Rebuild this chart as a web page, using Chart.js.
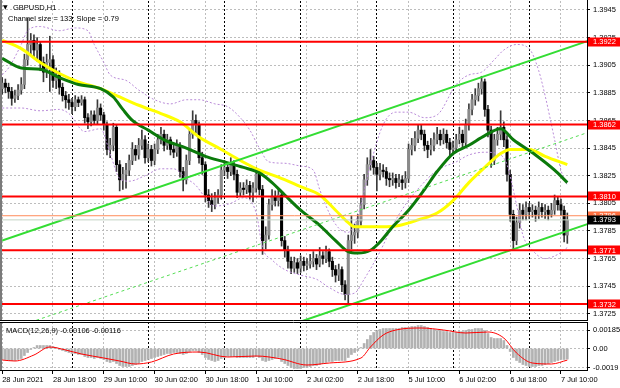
<!DOCTYPE html>
<html><head><meta charset="utf-8">
<script src="https://cdn.jsdelivr.net/npm/chart.js@4.4.1/dist/chart.umd.min.js"></script>
<style>
html,body{margin:0;padding:0;background:#fff;width:620px;height:388px;overflow:hidden}
canvas{position:absolute;left:0}
#main{top:0}
#macd{top:322px}
</style></head><body>
<canvas id="main" width="620" height="321"></canvas>
<canvas id="macd" width="620" height="66"></canvas>
<script>
// ---------- DATA ----------
const symbolTitle = 'GBPUSD,H1';
const channelText = 'Channel size = 133; Slope = 0.79';
const macdText = 'MACD(12,26,9) -0.00106 -0.00116';

const timeIdx = [0,16,32,48,64,80,96,112,128,144,160,176];
const timeLabels = ['28 Jun 2021','28 Jun 18:00','29 Jun 10:00','30 Jun 02:00','30 Jun 18:00','1 Jul 10:00','2 Jul 02:00','2 Jul 18:00','5 Jul 10:00','6 Jul 02:00','6 Jul 18:00','7 Jul 10:00'];
const daySepIdx = [22,46,70,94,118,142,166];
const priceTicks = [1.3725,1.3745,1.3765,1.3785,1.3805,1.3825,1.3845,1.3865,1.3885,1.3905,1.3925,1.3945];
const macdTickVals = [0.00185,0,-0.0019];
const macdTickText = ['0.00185','0.00','-0.0019'];

const openP = [1.3888,1.3892,1.3889,1.3886,1.3881,1.3883,1.3887,1.3891,1.3909,1.3920,
1.3923,1.3916,1.3920,1.3907,1.3900,1.3907,1.3909,1.3894,1.3898,1.3889,
1.3883,1.3880,1.3878,1.3875,1.3880,1.3878,1.3880,1.3867,1.3864,1.3869,
1.3865,1.3874,1.3869,1.3862,1.3844,1.3847,1.3860,1.3833,1.3822,1.3826,
1.3829,1.3836,1.3844,1.3840,1.3847,1.3851,1.3838,1.3844,1.3836,1.3844,
1.3851,1.3855,1.3847,1.3851,1.3844,1.3842,1.3847,1.3828,1.3822,1.3836,
1.3855,1.3865,1.3862,1.3838,1.3833,1.3811,1.3807,1.3804,1.3809,1.3811,
1.3829,1.3831,1.3828,1.3833,1.3826,1.3813,1.3816,1.3815,1.3818,1.3813,
1.3816,1.3826,1.3815,1.3778,1.3782,1.3804,1.3810,1.3807,1.3811,1.3778,
1.3771,1.3763,1.3758,1.3762,1.3758,1.3763,1.3760,1.3761,1.3763,1.3765,
1.3761,1.3767,1.3765,1.3770,1.3763,1.3757,1.3753,1.3757,1.3746,1.3739,
1.3778,1.3782,1.3784,1.3792,1.3804,1.3822,1.3833,1.3836,1.3831,1.3826,
1.3829,1.3828,1.3823,1.3822,1.3823,1.3820,1.3822,1.3820,1.3823,1.3844,
1.3847,1.3852,1.3858,1.3855,1.3847,1.3844,1.3847,1.3851,1.3855,1.3851,
1.3855,1.3849,1.3844,1.3845,1.3851,1.3855,1.3849,1.3862,1.3873,1.3880,
1.3883,1.3888,1.3893,1.3873,1.3858,1.3836,1.3851,1.3855,1.3860,1.3851,
1.3826,1.3797,1.3778,1.3791,1.3800,1.3797,1.3802,1.3799,1.3800,1.3797,
1.3802,1.3799,1.3800,1.3797,1.3800,1.3807,1.3804,1.3800,1.3782];
const highP = [1.3896,1.3895,1.3892,1.3889,1.3887,1.3891,1.3896,1.3913,1.3939,1.3928,
1.3927,1.3925,1.3922,1.3911,1.3913,1.3926,1.3912,1.3903,1.3901,1.3892,
1.3886,1.3884,1.3881,1.3883,1.3882,1.3883,1.3882,1.3870,1.3872,1.3872,
1.3880,1.3877,1.3871,1.3864,1.3852,1.3863,1.3862,1.3836,1.3831,1.3834,
1.3840,1.3849,1.3847,1.3852,1.3858,1.3854,1.3848,1.3847,1.3848,1.3855,
1.3860,1.3858,1.3855,1.3853,1.3848,1.3851,1.3849,1.3831,1.3840,1.3858,
1.3872,1.3869,1.3864,1.3842,1.3835,1.3815,1.3812,1.3813,1.3815,1.3833,
1.3836,1.3834,1.3838,1.3836,1.3829,1.3820,1.3820,1.3822,1.3821,1.3820,
1.3831,1.3829,1.3818,1.3788,1.3808,1.3815,1.3814,1.3815,1.3813,1.3781,
1.3774,1.3766,1.3766,1.3765,1.3767,1.3766,1.3765,1.3768,1.3770,1.3768,
1.3773,1.3770,1.3774,1.3772,1.3766,1.3760,1.3761,1.3759,1.3749,1.3782,
1.3796,1.3790,1.3797,1.3809,1.3826,1.3838,1.3844,1.3839,1.3834,1.3834,
1.3833,1.3831,1.3827,1.3827,1.3826,1.3826,1.3825,1.3828,1.3848,1.3852,
1.3857,1.3862,1.3862,1.3858,1.3850,1.3852,1.3856,1.3860,1.3858,1.3859,
1.3858,1.3852,1.3850,1.3855,1.3860,1.3858,1.3866,1.3877,1.3884,1.3888,
1.3892,1.3897,1.3895,1.3876,1.3861,1.3855,1.3860,1.3872,1.3864,1.3854,
1.3829,1.3800,1.3795,1.3805,1.3804,1.3806,1.3805,1.3804,1.3803,1.3806,
1.3805,1.3804,1.3803,1.3805,1.3811,1.3810,1.3808,1.3803,1.3798];
const lowP = [1.3884,1.3885,1.3881,1.3876,1.3878,1.3880,1.3884,1.3888,1.3905,1.3912,
1.3910,1.3908,1.3901,1.3893,1.3896,1.3886,1.3889,1.3888,1.3884,1.3879,
1.3874,1.3873,1.3870,1.3872,1.3875,1.3876,1.3863,1.3859,1.3861,1.3862,
1.3862,1.3865,1.3858,1.3840,1.3838,1.3843,1.3828,1.3814,1.3815,1.3816,
1.3825,1.3833,1.3836,1.3837,1.3844,1.3834,1.3835,1.3832,1.3833,1.3841,
1.3848,1.3843,1.3844,1.3840,1.3838,1.3839,1.3824,1.3814,1.3819,1.3833,
1.3852,1.3856,1.3834,1.3826,1.3806,1.3802,1.3799,1.3801,1.3805,1.3808,
1.3825,1.3823,1.3825,1.3822,1.3809,1.3810,1.3811,1.3812,1.3808,1.3806,
1.3813,1.3811,1.3768,1.3772,1.3779,1.3800,1.3803,1.3803,1.3774,1.3766,
1.3758,1.3754,1.3755,1.3754,1.3755,1.3756,1.3757,1.3758,1.3759,1.3757,
1.3759,1.3761,1.3762,1.3759,1.3752,1.3748,1.3749,1.3741,1.3735,1.3733,
1.3772,1.3776,1.3780,1.3789,1.3801,1.3818,1.3829,1.3826,1.3814,1.3822,
1.3824,1.3818,1.3817,1.3818,1.3816,1.3817,1.3815,1.3816,1.3820,1.3840,
1.3843,1.3849,1.3851,1.3843,1.3838,1.3840,1.3843,1.3848,1.3847,1.3848,
1.3845,1.3839,1.3840,1.3842,1.3848,1.3845,1.3846,1.3858,1.3869,1.3876,
1.3879,1.3884,1.3868,1.3853,1.3831,1.3833,1.3847,1.3851,1.3846,1.3821,
1.3792,1.3771,1.3775,1.3787,1.3793,1.3793,1.3794,1.3795,1.3792,1.3794,
1.3795,1.3794,1.3793,1.3795,1.3797,1.3800,1.3796,1.3777,1.3776];
const closeP = [1.3892,1.3889,1.3886,1.3881,1.3883,1.3887,1.3891,1.3909,1.3920,1.3923,
1.3916,1.3920,1.3907,1.3900,1.3907,1.3909,1.3894,1.3898,1.3889,1.3883,
1.3880,1.3878,1.3875,1.3880,1.3878,1.3880,1.3867,1.3864,1.3869,1.3865,
1.3874,1.3869,1.3862,1.3844,1.3847,1.3860,1.3833,1.3822,1.3826,1.3829,
1.3836,1.3844,1.3840,1.3847,1.3851,1.3838,1.3844,1.3836,1.3844,1.3851,
1.3855,1.3847,1.3851,1.3844,1.3842,1.3847,1.3828,1.3822,1.3836,1.3855,
1.3865,1.3862,1.3838,1.3833,1.3811,1.3807,1.3804,1.3809,1.3811,1.3829,
1.3831,1.3828,1.3833,1.3826,1.3813,1.3816,1.3815,1.3818,1.3813,1.3816,
1.3826,1.3815,1.3778,1.3782,1.3804,1.3810,1.3807,1.3811,1.3778,1.3771,
1.3763,1.3758,1.3762,1.3758,1.3763,1.3760,1.3761,1.3763,1.3765,1.3761,
1.3767,1.3765,1.3770,1.3763,1.3757,1.3753,1.3757,1.3746,1.3739,1.3778,
1.3782,1.3784,1.3792,1.3804,1.3822,1.3833,1.3836,1.3831,1.3826,1.3829,
1.3828,1.3823,1.3822,1.3823,1.3820,1.3822,1.3820,1.3823,1.3844,1.3847,
1.3852,1.3858,1.3855,1.3847,1.3844,1.3847,1.3851,1.3855,1.3851,1.3855,
1.3849,1.3844,1.3845,1.3851,1.3855,1.3849,1.3862,1.3873,1.3880,1.3883,
1.3888,1.3893,1.3873,1.3858,1.3836,1.3851,1.3855,1.3860,1.3851,1.3826,
1.3797,1.3778,1.3791,1.3800,1.3797,1.3802,1.3799,1.3800,1.3797,1.3802,
1.3799,1.3800,1.3797,1.3800,1.3807,1.3804,1.3800,1.3782,1.3793];

// moving averages (read at sample bars)
const yellowIdx = [0,6,12,18,24,31,37,43,50,56,62,69,75,81,87,94,100,105,109,111,116,121,125,131,137,142,147,152,157,160,166,171,178];
const yellowVal = [1.3923,1.3917,1.3907,1.3899,1.3893,1.3888,1.3882,1.3876,1.3870,1.3864,1.3853,1.3844,1.3836,1.3829,1.3824,1.3817,1.3811,1.3800,1.3791,1.3788,1.3788,1.3788,1.3789,1.3793,1.3798,1.3807,1.3820,1.3831,1.3841,1.3844,1.3844,1.3839,1.3833];
const greenIdx = [0,6,12,18,24,31,35,38,41,46,51,58,64,70,76,81,85,89,94,100,105,109,112,116,119,123,128,133,137,142,147,152,157,161,168,174,178];
const greenVal = [1.3910,1.3903,1.3902,1.3896,1.3891,1.3888,1.3882,1.3873,1.3865,1.3858,1.3851,1.3845,1.3839,1.3835,1.3831,1.3827,1.3820,1.3811,1.3800,1.3789,1.3778,1.3770,1.3769,1.3771,1.3777,1.3788,1.3800,1.3815,1.3828,1.3841,1.3847,1.3854,1.3859,1.3851,1.3840,1.3829,1.3820];
const upIdx = [0,2,6,8,12,18,23,27,29,32,34,39,43,48,53,58,62,67,71,75,78,81,84,89,94,98,100,103,106,109,112,116,120,124,128,133,137,143,147,151,155,158,162,166,169,171,174,176,178];
const upVal = [1.3898,1.3903,1.3920,1.3930,1.3933,1.3930,1.3932,1.3930,1.3920,1.3907,1.3898,1.3894,1.3887,1.3880,1.3877,1.3880,1.3880,1.3877,1.3875,1.3867,1.3858,1.3845,1.3835,1.3834,1.3832,1.3829,1.3815,1.3798,1.3787,1.3784,1.3796,1.3833,1.3862,1.3871,1.3871,1.3867,1.3869,1.3891,1.3898,1.3900,1.3909,1.3916,1.3920,1.3917,1.3901,1.3883,1.3851,1.3829,1.3818];
const loIdx = [0,6,12,18,21,26,31,34,37,40,45,50,54,58,61,64,67,72,76,80,82,85,89,94,99,103,108,111,114,119,123,127,132,137,143,147,152,157,159,162,164,167,171,175,178];
const loVal = [1.3874,1.3874,1.3872,1.3873,1.3870,1.3857,1.3859,1.3841,1.3823,1.3821,1.3825,1.3830,1.3830,1.3823,1.3818,1.3809,1.3803,1.3805,1.3809,1.3798,1.3773,1.3764,1.3757,1.3753,1.3750,1.3744,1.3739,1.3740,1.3750,1.3770,1.3789,1.3804,1.3818,1.3829,1.3835,1.3840,1.3842,1.3840,1.3833,1.3804,1.3782,1.3771,1.3765,1.3768,1.3773];

// channel lines (end points)
const chanUpIdx = [0,185], chanUpVal = [1.3778,1.3923];
const chanLoIdx = [93,185], chanLoVal = [1.37186,1.37905];
const chanMidIdx = [0,185], chanMidVal = [1.37119,1.38567];

// horizontal levels
const levels = [1.3922,1.3862,1.3810,1.3771,1.3732];
const orangeLevel = 1.3796;
const bidLevel = 1.3793;

// MACD
const macdHist = [-0.0011,-0.0011,-0.0012,-0.0012,-0.0012,-0.0011,-0.0010,-0.0007,-0.0004,-0.0001,
0.0001,0.0003,0.0003,0.0003,0.0003,0.0003,0.0002,0.0001,-0.0001,-0.0002,
-0.0003,-0.0004,-0.0005,-0.0005,-0.0006,-0.0006,-0.0008,-0.0009,-0.0009,-0.0010,
-0.0009,-0.0010,-0.0011,-0.0013,-0.0014,-0.0013,-0.0015,-0.0017,-0.0018,-0.0018,
-0.0018,-0.0017,-0.0016,-0.0015,-0.0013,-0.0012,-0.0011,-0.0010,-0.0009,-0.0008,
-0.0007,-0.0006,-0.0005,-0.0005,-0.0004,-0.0004,-0.0005,-0.0006,-0.0005,-0.0003,
-0.0002,-0.0002,-0.0004,-0.0006,-0.0009,-0.0011,-0.0012,-0.0013,-0.0012,-0.0010,
-0.0009,-0.0008,-0.0008,-0.0008,-0.0009,-0.0009,-0.0009,-0.0009,-0.0009,-0.0009,
-0.0008,-0.0009,-0.0012,-0.0013,-0.0012,-0.0011,-0.0010,-0.0009,-0.0013,-0.0015,
-0.0017,-0.0019,-0.0020,-0.0020,-0.0020,-0.0019,-0.0019,-0.0018,-0.0017,-0.0017,
-0.0016,-0.0015,-0.0014,-0.0013,-0.0013,-0.0012,-0.0012,-0.0012,-0.0012,-0.0009,
-0.0006,-0.0004,-0.0002,0.0001,0.0005,0.0009,0.0013,0.0016,0.0018,0.0019,
0.0020,0.0020,0.0020,0.0020,0.0020,0.0020,0.0021,0.0021,0.0021,0.0022,
0.0022,0.0023,0.0023,0.0022,0.0021,0.0020,0.0019,0.0018,0.0018,0.0017,
0.0017,0.0016,0.0016,0.0016,0.0017,0.0017,0.0018,0.0019,0.0019,0.0020,
0.0020,0.0020,0.0018,0.0015,0.0011,0.0010,0.0010,0.0010,0.0008,0.0003,
-0.0003,-0.0009,-0.0012,-0.0014,-0.0016,-0.0017,-0.0018,-0.0018,-0.0018,-0.0017,
-0.0017,-0.0016,-0.0015,-0.0014,-0.0013,-0.0012,-0.0011,-0.0011,-0.00106];
const signalIdx = [0,4,10,15,20,25,32,37,42,47,54,62,71,80,88,96,103,113,116,120,124,132,139,146,153,158,162,167,173,178];
const signalVal = [-0.00115,-0.00125,-0.00065,0.00015,-0.00015,-0.00055,-0.00095,-0.00125,-0.00155,-0.00135,-0.00055,-0.00035,-0.00085,-0.00075,-0.00105,-0.00165,-0.00145,-0.00095,0.00015,0.00135,0.00185,0.00205,0.00185,0.00155,0.00165,0.00105,-0.00045,-0.00145,-0.00155,-0.00116];

// ---------- CHART ----------
Chart.defaults.font.family = "'Liberation Sans', Arial, sans-serif";
Chart.defaults.font.size = 7.5;
Chart.defaults.color = '#000';

const X_MIN = -0.063, X_MAX = 184.2;
const Y_MIN = 1.37205, Y_MAX = 1.39515;
const GRID = '#bdbdbd';
const barIdx = closeP.map((_, i) => i);
const toXY = (xs, ys) => xs.map((x, k) => ({x: x, y: ys[k]}));
const gridIdx = timeIdx.concat(daySepIdx).sort((a, b) => a - b);
const isSep = c => c.tick && daySepIdx.includes(c.tick.value);
const noPad = s => { s.paddingTop = 0; s.paddingBottom = 0; s.paddingLeft = 0; s.paddingRight = 0; };

const lineDs = (xs, ys, color, width, dash, order, smooth) => ({
  type: 'line', data: toXY(xs, ys), borderColor: color, borderWidth: width,
  borderDash: dash, pointRadius: 0, order: order,
  cubicInterpolationMode: smooth ? 'monotone' : 'default', tension: 0
});

const mainDatasets = [
  {type: 'bar', data: barIdx.map(i => ({x: i, y: [lowP[i], highP[i]]})), backgroundColor: '#3a3a3a', barThickness: 1, grouped: false, order: 20},
  {type: 'bar', data: barIdx.map(i => ({x: i, y: [openP[i], closeP[i]]})), backgroundColor: barIdx.map(i => closeP[i] >= openP[i] ? '#8a8a8a' : '#000000'), barThickness: 2.4, grouped: false, order: 19},
  lineDs(upIdx, upVal, '#b98bd8', 1, [2, 2], 15, true),
  lineDs(loIdx, loVal, '#b98bd8', 1, [2, 2], 15, true),
  lineDs(yellowIdx, yellowVal, '#ffff00', 3, [], 12, true),
  lineDs(greenIdx, greenVal, '#0b7a0b', 3, [], 11, true),
  lineDs(chanMidIdx, chanMidVal, '#55dd55', 1, [3, 3], 7, false),
  lineDs(chanUpIdx, chanUpVal, '#33dd33', 2, [], 6, false),
  lineDs(chanLoIdx, chanLoVal, '#33dd33', 2, [], 6, false),
  lineDs([-1, 186], [orangeLevel, orangeLevel], '#ff8c5a', 1, [], 4, false),
  lineDs([-1, 186], [bidLevel, bidLevel], '#c4d4c4', 1, [], 4, false)
].concat(levels.map(p => lineDs([-1, 186], [p, p], '#ff0000', 2, [], 2, false)));

const mainDeco = {
  id: 'mainDeco',
  afterDraw(chart) {
    const {ctx, chartArea: a, scales: {y}} = chart;
    ctx.save();
    ctx.fillStyle = '#7a7a7a';
    ctx.fillRect(0, 0, 2, a.bottom);
    ctx.strokeStyle = '#000'; ctx.lineWidth = 1;
    ctx.beginPath();
    ctx.moveTo(a.right + 0.5, 0); ctx.lineTo(a.right + 0.5, chart.height);
    ctx.moveTo(0, a.bottom + 0.5); ctx.lineTo(a.right, a.bottom + 0.5);
    ctx.stroke();
    // price label boxes
    const boxes = levels.map(p => ({p: p, bg: '#ff0000'}))
      .concat([{p: orangeLevel, bg: '#ff7040'}, {p: bidLevel, bg: '#000000'}]);
    ctx.font = "7.5px 'Liberation Sans', Arial, sans-serif";
    ctx.textBaseline = 'middle'; ctx.textAlign = 'left';
    boxes.forEach(b => {
      const py = y.getPixelForValue(b.p);
      ctx.fillStyle = b.bg;
      ctx.fillRect(a.right + 1, Math.round(py) - 4.5, 620 - a.right - 1, 9);
      ctx.fillStyle = '#ffffff';
      ctx.fillText(b.p.toFixed(4), a.right + 6, py + 0.5);
    });
    // titles
    ctx.fillStyle = '#000';
    ctx.font = "6px 'DejaVu Sans', sans-serif";
    ctx.fillText('▼', 3, 7.5);
    ctx.font = "7.5px 'Liberation Sans', Arial, sans-serif";
    ctx.fillText(symbolTitle, 13, 7.5);
    ctx.fillText(channelText, 8, 18.5);
    ctx.restore();
  }
};

new Chart(document.getElementById('main'), {
  type: 'bar',
  data: {datasets: mainDatasets},
  options: {
    responsive: false, animation: false, events: [],
    layout: {padding: {left: 2, top: 1, bottom: 1, right: 0}},
    plugins: {legend: {display: false}, tooltip: {enabled: false}},
    scales: {
      x: {
        type: 'linear', min: X_MIN, max: X_MAX, offset: false,
        afterBuildTicks: s => { s.ticks = gridIdx.map(v => ({value: v})); },
        afterFit: s => { s.height = 0; noPad(s); },
        ticks: {display: false, autoSkip: false},
        grid: {offset: false, drawTicks: false, color: c => isSep(c) ? '#000000' : GRID, lineWidth: 1},
        border: {display: false, dash: [2, 2]}
      },
      y: {
        type: 'linear', position: 'right', min: Y_MIN, max: Y_MAX,
        afterBuildTicks: s => { s.ticks = priceTicks.map(v => ({value: v})); },
        afterFit: s => { s.width = 33; noPad(s); },
        ticks: {autoSkip: false, padding: 3, callback: v => Number(v).toFixed(4)},
        grid: {color: GRID, tickLength: 3, tickColor: '#000'},
        border: {display: false, dash: [2, 2]}
      }
    }
  },
  plugins: [mainDeco]
});

const macdDeco = {
  id: 'macdDeco',
  afterDraw(chart) {
    const {ctx, chartArea: a} = chart;
    ctx.save();
    ctx.fillStyle = '#7a7a7a';
    ctx.fillRect(0, a.top, 2, a.bottom - a.top);
    ctx.strokeStyle = '#000'; ctx.lineWidth = 1;
    ctx.beginPath();
    ctx.moveTo(0, a.top + 0.5); ctx.lineTo(a.right, a.top + 0.5);
    ctx.moveTo(0, a.bottom - 0.5); ctx.lineTo(a.right, a.bottom - 0.5);
    ctx.moveTo(a.right + 0.5, 0); ctx.lineTo(a.right + 0.5, a.bottom);
    ctx.stroke();
    ctx.fillStyle = '#000';
    ctx.font = "7.5px 'Liberation Sans', Arial, sans-serif";
    ctx.textBaseline = 'middle'; ctx.textAlign = 'left';
    ctx.fillText(macdText, 6, a.top + 8.5);
    ctx.restore();
  }
};

new Chart(document.getElementById('macd'), {
  type: 'bar',
  data: {datasets: [
    {type: 'bar', data: barIdx.map(i => ({x: i, y: macdHist[i]})), backgroundColor: '#b2b2b2', barThickness: 2, grouped: false, order: 10},
    {type: 'line', data: toXY(signalIdx, signalVal), borderColor: '#ff0000', borderWidth: 1, pointRadius: 0, cubicInterpolationMode: 'monotone', order: 1}
  ]},
  options: {
    responsive: false, animation: false, events: [],
    layout: {padding: {left: 2, top: 0, bottom: 0, right: 0}},
    plugins: {legend: {display: false}, tooltip: {enabled: false}},
    scales: {
      x: {
        type: 'linear', min: X_MIN, max: X_MAX, offset: false, position: 'bottom',
        afterBuildTicks: s => { s.ticks = gridIdx.map(v => ({value: v})); },
        afterFit: s => { s.height = 17; noPad(s); },
        ticks: {autoSkip: false, maxRotation: 0, minRotation: 0, align: 'start', padding: 1,
          callback: v => { const k = timeIdx.indexOf(v); return k >= 0 ? timeLabels[k] : ''; }},
        grid: {offset: false, color: c => isSep(c) ? '#000000' : GRID, tickLength: 3,
          tickColor: c => isSep(c) ? 'rgba(0,0,0,0)' : '#000'},
        border: {display: false, dash: [2, 2]}
      },
      y: {
        type: 'linear', position: 'right', min: -0.00225, max: 0.00265,
        afterBuildTicks: s => { s.ticks = macdTickVals.map(v => ({value: v})); },
        afterFit: s => { s.width = 33; noPad(s); },
        ticks: {autoSkip: false, padding: 3, callback: v => {
          const k = macdTickVals.findIndex(t => Math.abs(t - v) < 1e-9); return k >= 0 ? macdTickText[k] : ''; }},
        grid: {color: GRID, tickLength: 3, tickColor: '#000'},
        border: {display: false, dash: [2, 2]}
      }
    }
  },
  plugins: [macdDeco]
});
</script>
</body></html>
